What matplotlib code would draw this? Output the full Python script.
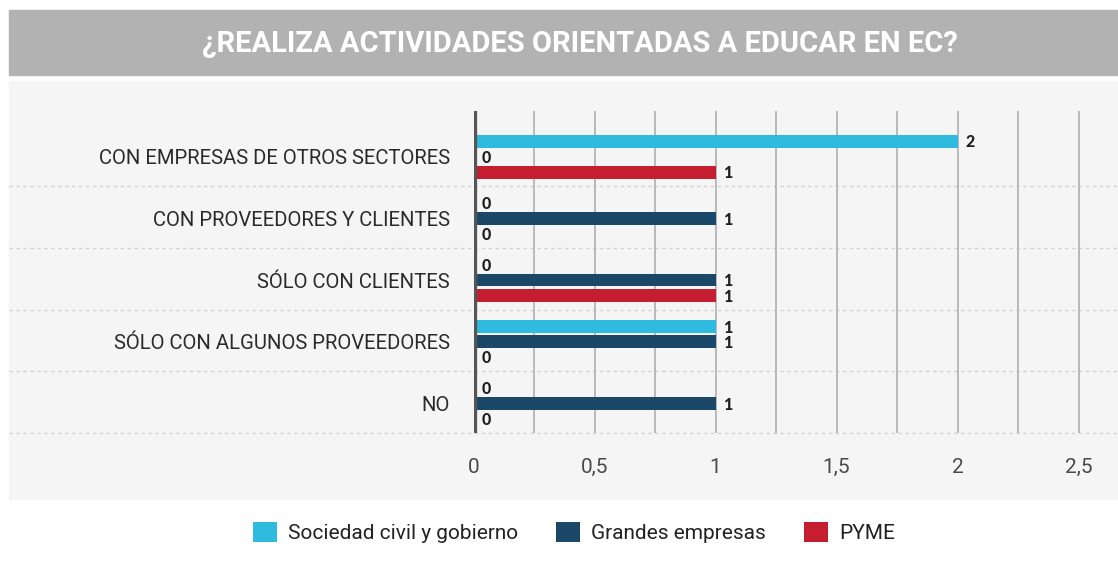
"""Grouped horizontal bars: ¿Realiza actividades orientadas a educar en EC?"""
import matplotlib
matplotlib.use("Agg")
import matplotlib.pyplot as plt
import numpy as np
from matplotlib.patches import Patch, Rectangle
from matplotlib.transforms import blended_transform_factory

categories = ["CON EMPRESAS DE OTROS SECTORES", "CON PROVEEDORES Y CLIENTES",
              "SÓLO CON CLIENTES", "SÓLO CON ALGUNOS PROVEEDORES", "NO"]
series_names = ["Sociedad civil y gobierno", "Grandes empresas", "PYME"]
sociedad = [2, 0, 0, 1, 0]
grandes = [0, 1, 1, 1, 1]
pyme = [1, 0, 1, 0, 0]
xticks = [0, 0.5, 1, 1.5, 2, 2.5]
xtick_labels = ["0", "0,5", "1", "1,5", "2", "2,5"]

colors = ["#2ebbdf", "#1b4869", "#c41e30"]
W, H = 1118, 568

fig = plt.figure(figsize=(W / 100, H / 100), dpi=100)
fig.patch.set_facecolor("white")

# title bar + panel (behind the axes)
fig.add_artist(Rectangle((9 / W, 1 - 75 / H), (W - 9) / W, 65 / H,
                         transform=fig.transFigure, color="#b2b2b2", zorder=-10))
fig.add_artist(Rectangle((9 / W, 1 - 499 / H), (W - 9) / W, 418 / H,
                         transform=fig.transFigure, color="#f5f5f5", zorder=-10))
fig.text(580 / W, 1 - 44 / H, "¿REALIZA ACTIVIDADES ORIENTADAS A EDUCAR EN EC?",
         color="white", fontsize=21, fontweight="bold",
         family="Roboto", ha="center", va="center")

x0 = 473.5
ax = fig.add_axes([x0 / W, 1 - 433 / H, (W - x0) / W, 322 / H])
ax.set_zorder(2)
ax.set_facecolor("none")
ax.set_xlim(0, (W - x0) / 242)
ax.set_ylim(4.48, -0.74)
for s in ax.spines.values():
    s.set_visible(False)

y = np.arange(len(categories))
offsets = [-0.25, 0, 0.25]
for k, (vals, col) in enumerate(zip([sociedad, grandes, pyme], colors)):
    yy = y + offsets[k]
    ax.barh(yy, vals, height=0.21, color=col, zorder=3)
    for yi, v in zip(yy, vals):
        ax.annotate(str(v), (v, yi + 0.02), xytext=(6, 0), textcoords="offset points",
                    ha="left", va="center", fontsize=11.5, fontweight="black",
                    family=["Lato", "DejaVu Sans"], color="#1e1e1e", zorder=4)

ax.vlines(np.arange(0.25, 2.51, 0.25), -0.74, 4.48, color="#b4b4b4", lw=1.3, zorder=1)
ax.axvline(0, color="#555555", lw=3.8, zorder=5)

# dotted separators across the whole panel
trans = blended_transform_factory(fig.transFigure, ax.transData)
for i in range(len(categories)):
    ax.plot([9 / W, 1], [i + 0.48, i + 0.48], transform=trans, clip_on=False,
            color="#d2d2d2", lw=1, ls=(0, (2.5, 2.5)), zorder=0)

ax.set_yticks(y)
ax.set_yticklabels(categories, family="Roboto", fontsize=14.6, color="#2a2a2a")
ax.set_xticks(xticks)
ax.set_xticklabels(xtick_labels, family="Roboto", fontsize=15, color="#4a4a4a")
ax.tick_params(axis="y", length=0, pad=17)
ax.tick_params(axis="x", length=0, pad=18)

handles = [Patch(facecolor=c, edgecolor="none") for c in colors]
fig.legend(handles, series_names, loc="center", bbox_to_anchor=(574 / W, 1 - 532.5 / H),
           ncol=3, frameon=False, prop={"family": "Roboto", "size": 15},
           handlelength=1.15, handleheight=1.15, handletextpad=0.53, columnspacing=1.83,
           labelcolor="#222222")

fig.savefig("out.png", dpi=100)
